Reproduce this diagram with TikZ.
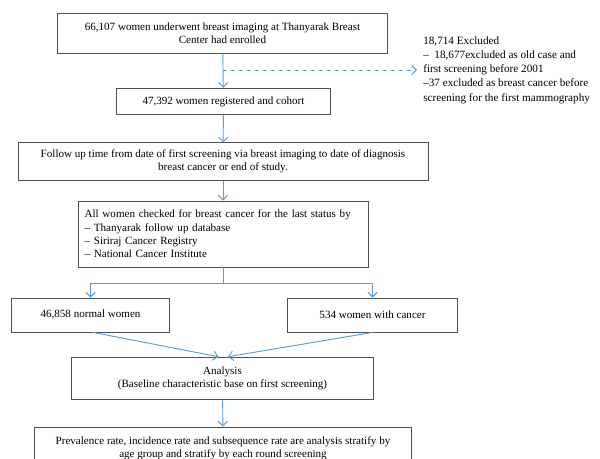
\documentclass[tikz,border=0pt]{standalone}
\usepackage{fontspec}
\setmainfont{Liberation Serif}
\usetikzlibrary{arrows.meta}
\definecolor{linkblue}{RGB}{91,155,213}
\definecolor{boxgray}{RGB}{80,80,80}
\tikzset{
  box/.style={draw=boxgray,line width=0.65pt,align=center,inner sep=0pt,
    font=\fontsize{8.3}{10}\selectfont},
  link/.style={draw=linkblue,line width=0.7pt,->,>={Straight Barb[length=3.5pt,width=7pt]}}
}
\begin{document}
\begin{tikzpicture}[x=0.75pt,y=-0.75pt]
\useasboundingbox (0,0) rectangle (600,459);
%boxes
\node[box,minimum width=248pt,minimum height=30pt] (enrol) at (222.5,33)
  {66,107 women underwent breast imaging at Thanyarak Breast\\Center had enrolled};
\node[box,minimum width=160pt,minimum height=20pt] (cohort) at (223.5,101.5)
  {47,392 women registered and cohort};
\node[box,minimum width=307.5pt,minimum height=28pt] (follow) at (223,161.5)
  {Follow up time from date of first screening via breast imaging to date of diagnosis\\breast cancer or end of study.};
\node[box,align=left,text width=207.5pt,inner xsep=5pt,minimum height=49.5pt] (check) at (223,234)
  {All women checked for breast cancer for the last status by\\
   -- Thanyarak follow up database\\
   -- Siriraj Cancer Registry\\
   -- National Cancer Institute};
\node[box,minimum width=118pt,minimum height=25.5pt] (normal) at (90.5,315)
  {46,858 normal women};
\node[box,minimum width=128pt,minimum height=25.5pt] (cancer) at (372.5,315)
  {534 women with cancer};
\node[box,minimum width=226pt,minimum height=32pt] (analysis) at (222.5,378.5)
  {Analysis\\(Baseline characteristic base on first screening)};
\node[box,minimum width=283pt,minimum height=31.5pt] (rates) at (223,448)
  {Prevalence rate, incidence rate and subsequence rate are analysis stratify by\\age group and stratify by each round screening};
%excluded
\node[anchor=west,align=left,inner xsep=4.5pt,inner ysep=0pt,
  font=\fontsize{8.4}{10.7}\selectfont] (excl) at (417,70)
  {18,714 Excluded\\
   --\ \ 18,677excluded as old case and\\
   first screening before 2001\\
   --37 excluded as breast cancer before\\
   screening for the first mammography};
\coordinate (split) at (222.5,70);
%arrows
\draw[link] (enrol) -- (cohort);
\draw[link,dashed] (split) -- (excl.west);
\draw[link] (cohort) -- (follow);
\draw[link] (follow) -- (check);
\draw[link] (check.south) -- ++(0,16) -| (normal.north);
\draw[link] (check.south) -- ++(0,16) -| (cancer.north);
\draw[link] ([xshift=2pt]normal.south) -- ([xshift=-3pt]analysis.north);
\draw[link] (cancer.south) -- ([xshift=4pt]analysis.north);
\draw[link] (analysis) -- (rates);
\end{tikzpicture}
\end{document}
